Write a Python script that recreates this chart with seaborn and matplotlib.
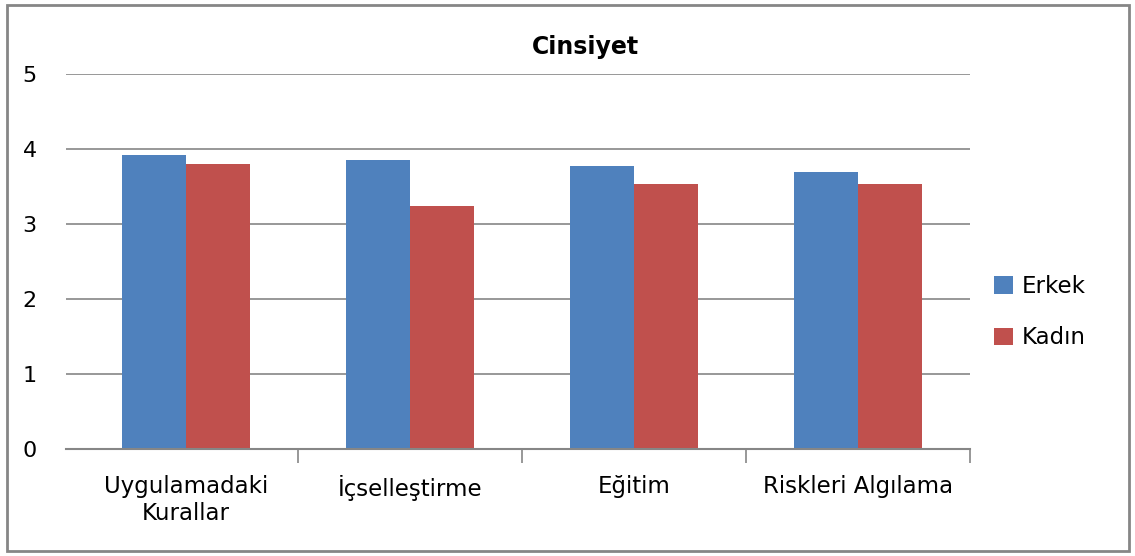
import pandas as pd
import seaborn as sns
import matplotlib.pyplot as plt
from matplotlib.patches import Rectangle

categories = ['Uygulamadaki\nKurallar', 'İçselleştirme', 'Eğitim', 'Riskleri Algılama']
erkek = [3.92, 3.86, 3.77, 3.70]
kadin = [3.80, 3.24, 3.54, 3.54]
groups = ['Erkek', 'Kadın']

df = pd.DataFrame({
    'kategori': categories * 2,
    'puan': erkek + kadin,
    'cinsiyet': [groups[0]] * 4 + [groups[1]] * 4,
})

sns.set_style("white")
plt.rcParams['font.family'] = ['DejaVu Sans']
plt.rcParams['text.color'] = 'black'
plt.rcParams['xtick.color'] = 'black'
plt.rcParams['ytick.color'] = 'black'

fig = plt.figure(figsize=(11.35, 5.56), dpi=100)
ax = fig.add_axes([66 / 1135, 1 - 449 / 556, (970 - 66) / 1135, (449 - 74) / 556])

sns.barplot(data=df, x='kategori', y='puan', hue='cinsiyet',
            palette=['#4F81BD', '#C0504D'], width=0.57, saturation=1,
            linewidth=0, ax=ax, legend=True)

ax.set_ylim(0, 5)
ax.set_xlim(-0.535, 3.5)
ax.set_yticks(range(6))
ax.grid(axis='y', color='#868686', linewidth=1.2)
ax.set_axisbelow(True)
for s in ['top', 'right', 'left']:
    ax.spines[s].set_visible(False)
ax.spines['bottom'].set_color('#868686')
ax.spines['bottom'].set_linewidth(1.5)

ax.set_xlabel('')
ax.set_ylabel('')
ax.tick_params(axis='y', length=0, labelsize=16, pad=21)
ax.tick_params(axis='x', which='major', length=0, labelsize=16.5, pad=19)
ax.set_xticks([0.5, 1.5, 2.5, 3.5], minor=True)
ax.tick_params(axis='x', which='minor', bottom=True, length=10,
               color='#868686', width=1.2)

ax.legend(loc='center left', bbox_to_anchor=(1.004, 0.365), frameon=False,
          fontsize=16.5, handlelength=0.8, handleheight=0.8, labelspacing=1.25,
          handletextpad=0.4)

fig.text(585 / 1135, 1 - 47 / 556, 'Cinsiyet', ha='center', va='center',
         fontsize=17, fontweight='bold')

fig.add_artist(Rectangle((7 / 1135, 5 / 556), 1122 / 1135, 546 / 556,
                         transform=fig.transFigure, fill=False,
                         edgecolor='#868686', linewidth=2))

fig.savefig('out.png', dpi=100)
